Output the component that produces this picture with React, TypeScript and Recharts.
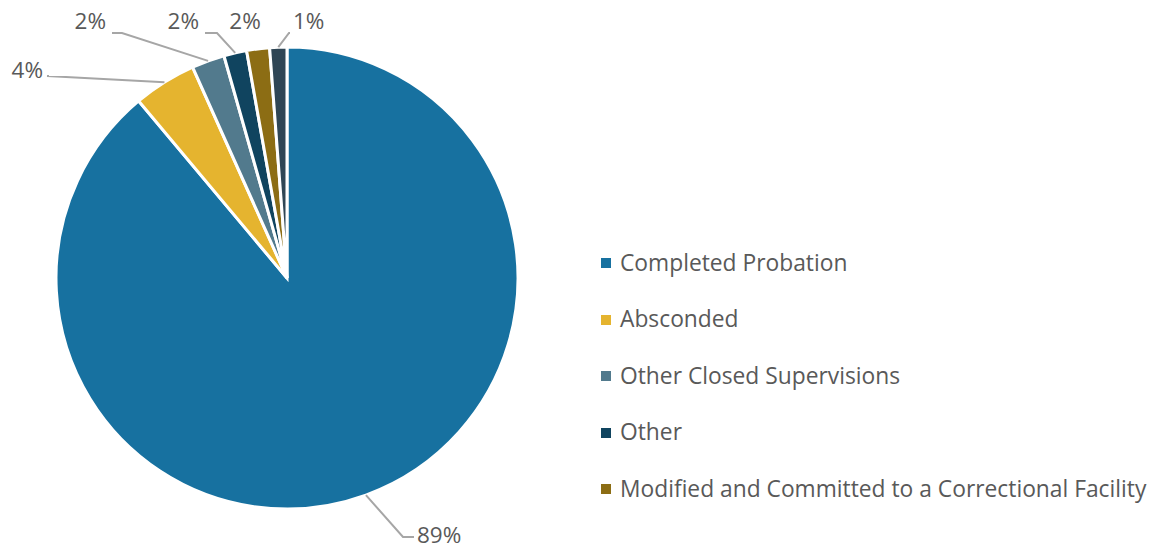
import React from "react";
import { PieChart, Pie, Cell, Legend } from "recharts";

const categories = [
  "Completed Probation",
  "Absconded",
  "Other Closed Supervisions",
  "Other",
  "Modified and Committed to a Correctional Facility",
  "Unreported",
];
const shares = [88.9, 4.4, 2.3, 1.6, 1.6, 1.2];
const colors = ["#1771A0", "#E5B42F", "#527A8D", "#10445F", "#8C6D14", "#2F4655"];
const legendCount = 5;

// label placement (elbow point, text x, anchor) relative to pie centre
const labelLayout = [
  { ex: 116, ey: 259, tx: 130, anchor: "start", line: true },
  { ex: -240, ey: -202, tx: -244, anchor: "end", line: true },
  { ex: -165, ey: -245, tx: -181, anchor: "end", line: true },
  { ex: -70, ey: -245, tx: -88, anchor: "end", line: true },
  { ex: -42, ey: -258, tx: -42, anchor: "middle", line: false },
  { ex: 2, ey: -245, tx: 6, anchor: "start", line: true },
];

const data = categories.map((name, i) => ({ name, value: shares[i] }));

const CX = 287;
const CY = 278;
const R = 231;
const RAD = Math.PI / 180;
const FONT = "'Open Sans', 'Noto Sans', sans-serif";

const renderLabel = (props: any) => {
  const { cx, cy, midAngle, outerRadius, index, percent } = props;
  const lay = labelLayout[index];
  const sx = cx + outerRadius * Math.cos(-midAngle * RAD);
  const sy = cy + outerRadius * Math.sin(-midAngle * RAD);
  const ex = cx + lay.ex;
  const ey = cy + lay.ey;
  const tx = cx + lay.tx;
  const textY = index === 0 ? ey - 3 : index === 1 ? ey - 7 : cy - 258;
  return (
    <g key={`lbl-${index}`}>
      {lay.line && (
        <polyline
          points={`${sx},${sy} ${ex},${ey} ${
            lay.anchor === "end" ? tx + 6 : lay.anchor === "start" ? tx - 3 : ex
          },${ey}`}
          fill="none"
          stroke="#A6A6A6"
          strokeWidth={2}
        />
      )}
      <text
        x={tx}
        y={textY}
        textAnchor={lay.anchor}
        dominantBaseline="central"
        fill="#595959"
        fontSize={22.5}
        fontFamily={FONT}
      >
        {`${Math.round(percent * 100)}%`}
      </text>
    </g>
  );
};

const renderLegend = () => (
  <div style={{ fontFamily: FONT, fontSize: 22.8, color: "#595959" }}>
    {categories.slice(0, legendCount).map((name, i) => (
      <div
        key={name}
        style={{ display: "flex", alignItems: "center", height: 56.5, whiteSpace: "nowrap" }}
      >
        <span
          style={{
            display: "inline-block",
            width: 10,
            height: 10,
            background: colors[i],
            marginRight: 9,
            marginTop: 2,
          }}
        />
        <span>{name}</span>
      </div>
    ))}
  </div>
);

export default function App() {
  return (
    <div style={{ position: "absolute", left: 0, top: 0, background: "#fff" }}>
      <PieChart width={1158} height={548} margin={{ top: 0, right: 0, bottom: 0, left: 0 }}>
        <Pie
          data={data}
          dataKey="value"
          nameKey="name"
          cx={CX}
          cy={CY}
          outerRadius={R}
          startAngle={90}
          endAngle={-270}
          stroke="#FFFFFF"
          strokeWidth={3}
          label={renderLabel}
          labelLine={false}
          isAnimationActive={false}
        >
          {data.map((d, i) => (
            <Cell key={d.name} fill={colors[i]} />
          ))}
        </Pie>
        <Legend
          layout="vertical"
          content={renderLegend}
          wrapperStyle={{ position: "absolute", left: 601, top: 234, width: 557 }}
        />
      </PieChart>
    </div>
  );
}
